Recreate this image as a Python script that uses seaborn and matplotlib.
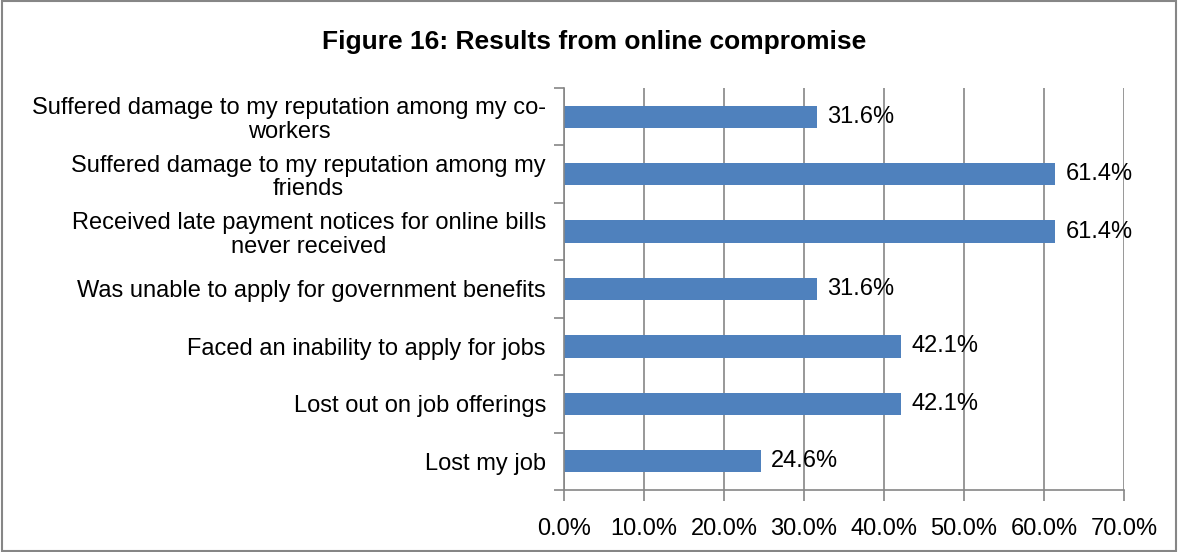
import matplotlib
matplotlib.use("Agg")
import matplotlib.pyplot as plt
import seaborn as sns
import pandas as pd
from matplotlib.patches import Rectangle

categories = [
    "Suffered damage to my reputation among my co-\nworkers",
    "Suffered damage to my reputation among my\nfriends",
    "Received late payment notices for online bills\nnever received",
    "Was unable to apply for government benefits",
    "Faced an inability to apply for jobs",
    "Lost out on job offerings",
    "Lost my job",
]
values = [31.6, 61.4, 61.4, 31.6, 42.1, 42.1, 24.6]
x_ticks = [0, 10, 20, 30, 40, 50, 60, 70]

df = pd.DataFrame({"category": categories, "value": values})

sns.set_theme(style="white")
plt.rcParams["font.family"] = ["Liberation Sans", "DejaVu Sans"]
plt.rcParams["text.color"] = "black"
plt.rcParams["xtick.color"] = "#868686"
plt.rcParams["ytick.color"] = "#868686"
plt.rcParams["xtick.labelcolor"] = "black"
plt.rcParams["ytick.labelcolor"] = "black"

W, H = 1178, 552
fig = plt.figure(figsize=(W / 100, H / 100), dpi=100)
left, right, top, bottom = 564, 1124, 88, 490
ax = fig.add_axes([left / W, 1 - bottom / H, (right - left) / W, (bottom - top) / H])

sns.barplot(data=df, y="category", x="value", orient="h", color="#4F81BD",
            saturation=1, width=0.39, ax=ax, edgecolor="none")

ax.set_xlim(0, 70)
ax.set_ylim(len(categories) - 0.5, -0.5)
ax.set_xticks(x_ticks)
ax.set_xticklabels([f"{t:.1f}%" for t in x_ticks], fontsize=17)
ax.set_xlabel("")
ax.set_ylabel("")

ax.set_yticks(range(len(categories)))
ax.set_yticklabels(categories, fontsize=17, multialignment="center",
                   linespacing=1.1)
ax.tick_params(axis="y", which="major", length=0, pad=13)
ax.set_yticks([i - 0.5 for i in range(len(categories) + 1)], minor=True)
ax.tick_params(axis="y", which="minor", left=True, length=7, width=1.2,
               color="#868686")
ax.tick_params(axis="x", which="major", bottom=True, length=8, width=1.2,
               color="#868686", pad=12, direction="out")

ax.xaxis.grid(True, color="#868686", linewidth=1.2)
ax.set_axisbelow(True)
for side in ["top", "right"]:
    ax.spines[side].set_visible(False)
for side in ["left", "bottom"]:
    ax.spines[side].set_color("#868686")
    ax.spines[side].set_linewidth(1.2)

for i, v in enumerate(values):
    ax.text(v + 1.3, i, f"{v:.1f}%", va="center", ha="left", fontsize=17,
            color="black")

fig.text(594 / W, 1 - 42 / H, "Figure 16: Results from online compromise",
         ha="center", va="center", fontsize=19, fontweight="bold")

fig.patches.append(Rectangle((0.0015, 0.002), 0.997, 0.996, transform=fig.transFigure,
                             fill=False, edgecolor="#868686", linewidth=1.5))

fig.savefig("out.png", dpi=100)
